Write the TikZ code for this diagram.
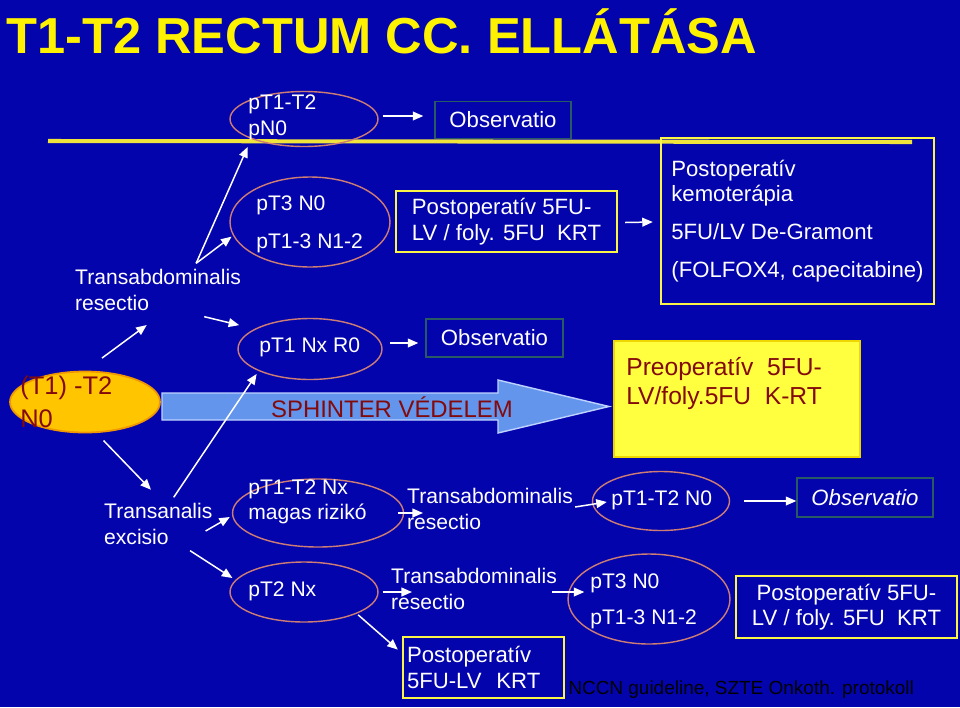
\documentclass[tikz,border=0pt]{standalone}
\usepackage{fontspec}
\setmainfont{Liberation Sans}
\usepackage{tikz}
\usetikzlibrary{shapes.geometric,arrows.meta,calc}

\definecolor{bgblue}{RGB}{4,4,172}
\definecolor{ovalline}{RGB}{205,125,115}
\definecolor{obsline}{RGB}{40,90,100}
\definecolor{boxyellow}{RGB}{250,245,70}
\definecolor{lineyellow}{RGB}{240,228,60}
\definecolor{darkred}{RGB}{130,10,10}
\definecolor{orangefill}{RGB}{255,198,0}
\definecolor{orangeline}{RGB}{240,150,0}
\definecolor{preyellow}{RGB}{255,255,64}
\definecolor{preline}{RGB}{238,215,0}
\definecolor{sphfill}{RGB}{100,149,237}
\definecolor{sphline}{RGB}{190,210,255}

\begin{document}
\begin{tikzpicture}[x=0.02cm,y=-0.02cm,
    font=\fontsize{12}{14.5}\selectfont,
    oval/.style={ellipse,draw=ovalline,line width=0.8pt},
    txt/.style={text=white,inner sep=0pt,anchor=west,align=left},
    lbl/.style={text=white,anchor=west,align=left},
    obs/.style={draw=obsline,line width=0.8pt,text=white,font=\fontsize{12.6}{14.5}\selectfont},
    ybox/.style={draw=boxyellow,line width=1.4pt,text=white,font=\fontsize{12.6}{14.5}\selectfont},
    arr/.style={-{Triangle[length=6pt,width=5pt]},white,line width=0.85pt}]
    % background
    \fill[bgblue] (0,0) rectangle (960,707);
    \draw[lineyellow,line width=2.3pt] (48,141) -- (912,142);
    \filldraw[fill=sphfill,draw=sphline,line width=0.8pt]
        (162,393) -- (498,393) -- (498,380) -- (609,406.5) -- (498,433) -- (498,420) -- (162,420) -- cycle;

    % title
    \node[anchor=base west,inner sep=0pt,text=yellow,font=\fontsize{28.8}{32}\selectfont\bfseries] (title) at (6,53) {T1-T2 RECTUM CC. ELLÁTÁSA};

    % nodes
    \node[ellipse,fill=orangefill,draw=orangeline,line width=1pt,minimum width=3cm,minimum height=1.22cm] (orange) at (85,402) {};
    \node[txt,text=darkred,font=\fontsize{14.5}{18.7}\selectfont] (orangetxt) at (20,401.5) {(T1) -T2\\N0};

    \node[oval,minimum width=2.96cm,minimum height=1.1cm] (e1) at (304,119) {};
    \node[txt] (e1txt) at (248,117.5) {pT1-T2\\pN0};
    \node[oval,minimum width=3.2cm,minimum height=1.8cm] (e2) at (310,222) {};
    \node[txt] (e2txt) at (256,224) {pT3 N0\\[7pt]pT1-3 N1-2};
    \node[oval,minimum width=2.88cm,minimum height=1.22cm] (e3) at (310,349) {};
    \node[txt] (e3txt) at (259,347) {pT1 Nx R0};
    \node[oval,minimum width=3.42cm,minimum height=1.36cm] (e5) at (318,513) {};
    \node[txt] (e5txt) at (248,502) {pT1-T2 Nx\\magas rizikó};
    \node[oval,minimum width=2.96cm,minimum height=1.2cm] (e6) at (304,592) {};
    \node[txt] (e6txt) at (248,591) {pT2 Nx};
    \node[oval,minimum width=2.74cm,minimum height=1.18cm] (e7) at (661,501) {};
    \node[txt] (e7txt) at (611,500) {pT1-T2 N0};
    \node[oval,minimum width=3.24cm,minimum height=1.8cm] (e8) at (649,599) {};
    \node[txt] (e8txt) at (590,601) {pT3 N0\\[6pt]pT1-3 N1-2};

    \node[lbl] (lab1) at (69,290) {Transabdominalis\\resectio};
    \node[lbl] (lab2) at (98,524) {Transanalis\\excisio};
    \node[lbl] (lab3) at (401,509) {Transabdominalis\\resectio};
    \node[lbl] (lab4) at (385,589) {Transabdominalis\\resectio};

    \node[obs,minimum width=2.72cm,minimum height=0.74cm] (b1) at (503,120) {Observatio};
    \node[ybox,align=left,minimum width=4.42cm,minimum height=1.22cm] (b2) at (506.5,221.5) {Postoperatív 5FU-\\LV / foly. 5FU~~KRT};
    \node[ybox,align=left,minimum width=5.46cm,minimum height=3.32cm] (b3) at (797.5,221) {Postoperatív\\kemoterápia\\[7pt]5FU/LV De-Gramont\\[7pt](FOLFOX4, capecitabine)};
    \node[obs,minimum width=2.74cm,minimum height=0.76cm] (b4) at (494.5,338) {Observatio};
    \node[fill=preyellow,draw=preline,line width=1.2pt,minimum width=4.92cm,minimum height=2.32cm] (b5) at (737,399) {};
    \node[txt,text=darkred,font=\fontsize{14}{16.4}\selectfont] (b5txt) at (626,383.5) {Preoperatív~~5FU-\\LV/foly.5FU~~K-RT};
    \node[ybox,align=left,text width=3.06cm,inner xsep=0.08cm,minimum height=1.22cm] (b6) at (483.5,667.5) {Postoperatív\\5FU-LV~~KRT};
    \node[obs,minimum width=2.72cm,minimum height=0.78cm,font=\fontsize{12.6}{14.5}\selectfont\itshape] (b7) at (865,497.5) {Observatio};
    \node[ybox,align=center,minimum width=4.42cm,minimum height=1.24cm] (b8) at (846.5,607) {Postoperatív 5FU-\\LV / foly. 5FU~~KRT};

    \node[text=darkred,font=\fontsize{13.6}{16}\selectfont] (sph) at (392,407) {SPHINTER VÉDELEM};
    \node[anchor=west,inner sep=0pt,text=black,font=\fontsize{10.8}{13}\selectfont] (foot) at (568,690) {NCCN guideline, SZTE Onkoth. protokoll};

    % edges
    \draw[arr,shorten <=12pt,shorten >=8pt] (orange.north) -- (lab1.south);
    \draw[arr,shorten >=5pt] (lab1.35) -- (e1.south west);
    \draw[arr,shorten >=1pt] (lab1.35) -- (e2.190);
    \draw[arr,shorten >=9pt] (lab1.-30) -- (e3.160);
    \draw[arr,shorten <=6pt,shorten >=6pt] (orange.-70) -- (lab2.north);
    \draw[arr,shorten >=2pt] (lab2.60) -- (e3.south west);
    \draw[arr] ($(lab2.east)+(-13,7)$) -- ($(e5.west)+(-2,4)$);
    \draw[arr,shorten >=2pt] (lab2.-40) -- (e6.170);
    \draw[arr] ($(e1.east)+(4,-3)$) -- ($(b1.west)+(-11,-4)$);
    \draw[arr] ($(b2.east)+(7,1)$) -- ($(b3.west)+(-7,1)$);
    \draw[arr] ($(e3.east)+(7,-6)$) -- ($(b4.west)+(-7,5)$);
    \draw[arr] ($(e5.east)+(-6,0)$) -- ($(lab3.west)+(22,4)$);
    \draw[arr] ($(e6.east)+(4,0)$) -- ($(lab4.west)+(27,3)$);
    \draw[arr,shorten <=1pt,shorten >=3pt] (e6.south east) -- (b6.170);
    \draw[arr] ($(lab3.east)+(-4,-2)$) -- ($(e7.west)+(15,1)$);
    \draw[arr] ($(lab4.east)+(-11,3)$) -- ($(e8.west)+(17,-7)$);
    \draw[arr,shorten <=8pt] (e7.east) -- (e7.east -| b7.west);
\end{tikzpicture}
\end{document}
